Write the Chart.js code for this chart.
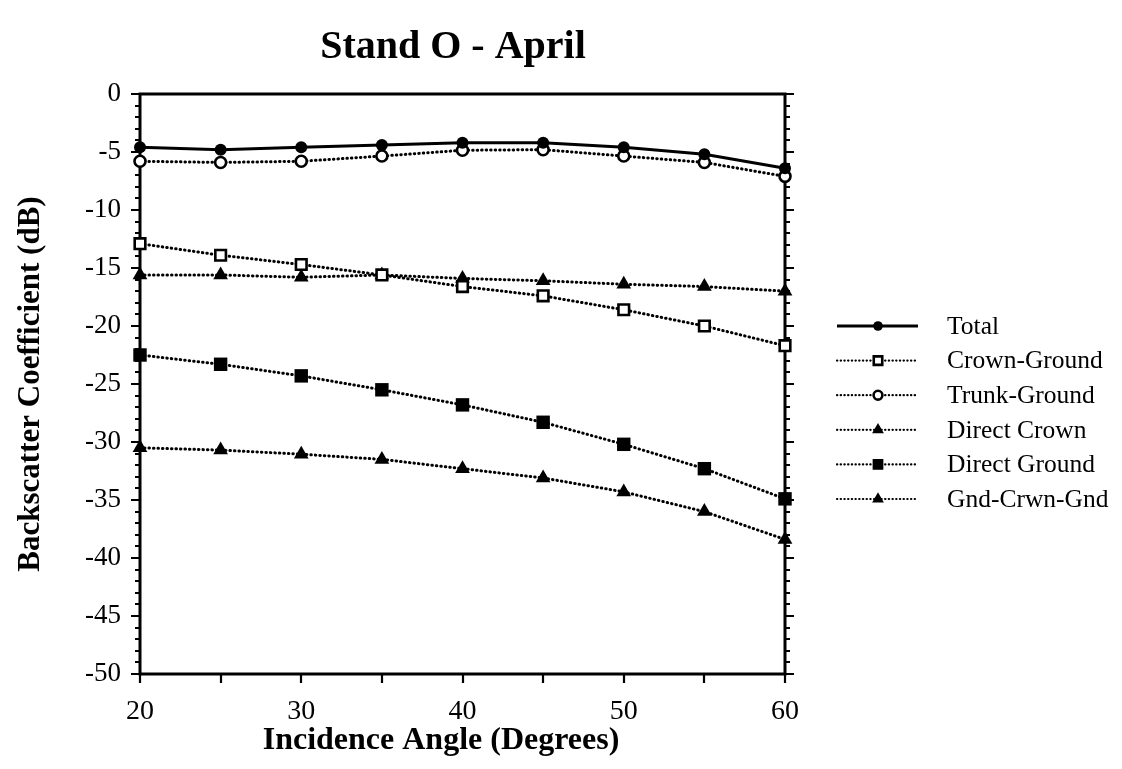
<!DOCTYPE html>
<html>
<head>
<meta charset="utf-8">
<script src="https://cdn.jsdelivr.net/npm/chart.js@4.4.1/dist/chart.umd.min.js"></script>
<style>
  html, body { margin: 0; padding: 0; background: #fff; }
  #wrap { width: 1122px; height: 769px; position: relative; }
</style>
</head>
<body>
<div id="wrap"><canvas id="chart"></canvas></div>
<script>
// --- data ---
const angles = [20, 25, 30, 35, 40, 45, 50, 55, 60];
const total        = [-4.6, -4.8, -4.6, -4.4, -4.2, -4.2, -4.6, -5.2, -6.4];
const crownGround  = [-12.9, -13.9, -14.7, -15.6, -16.6, -17.4, -18.6, -20.0, -21.7];
const trunkGround  = [-5.8, -5.9, -5.8, -5.35, -4.85, -4.8, -5.35, -5.9, -7.1];
const directCrown  = [-15.6, -15.6, -15.8, -15.6, -15.9, -16.1, -16.4, -16.6, -17.0];
const directGround = [-22.5, -23.3, -24.3, -25.5, -26.8, -28.3, -30.2, -32.3, -34.9];
const gndCrwnGnd   = [-30.5, -30.7, -31.05, -31.5, -32.3, -33.1, -34.3, -36.0, -38.4];

const xTickLabels = [20, 30, 40, 50, 60];
const yTickLabels = [0, -5, -10, -15, -20, -25, -30, -35, -40, -45, -50];

const SERIF = '"Liberation Serif", "Times New Roman", serif';
const DOTS = [0.5, 4];

const pts = vals => angles.map((a, i) => ({ x: a, y: vals[i] }));

const series = (label, vals, style) => Object.assign({
  label,
  data: pts(vals),
  borderColor: '#000',
  backgroundColor: '#000',
  pointBorderColor: '#000',
  borderWidth: 3,
  borderDash: DOTS,
  borderCapStyle: 'round',
  pointBorderWidth: 0,
  tension: 0,
  clip: false
}, style);

// Titles, ticks on both sides of the plot box, and the box itself
const axisFrame = {
  id: 'axisFrame',
  beforeDatasetsDraw(chart) {
    const { ctx, chartArea: a, scales: { x, y } } = chart;
    ctx.save();
    ctx.fillStyle = '#000';
    ctx.textAlign = 'center';
    ctx.textBaseline = 'middle';
    ctx.font = 'bold 40px ' + SERIF;
    ctx.fillText('Stand O - April', 453, 48);
    ctx.font = 'bold 32px ' + SERIF;
    ctx.fillText('Incidence Angle (Degrees)', 441, 741);

    ctx.strokeStyle = '#000';
    ctx.lineWidth = 2.2;
    ctx.beginPath();
    for (let v = -50; v <= 0; v++) {
      const py = Math.round(y.getPixelForValue(v));
      const len = v % 5 === 0 ? 9 : 5;
      ctx.moveTo(a.left - len, py); ctx.lineTo(a.left, py);
      ctx.moveTo(a.right, py); ctx.lineTo(a.right + len, py);
    }
    for (let v = 20; v <= 60; v += 5) {
      const px = Math.round(x.getPixelForValue(v));
      ctx.moveTo(px, a.bottom); ctx.lineTo(px, a.bottom + 9);
    }
    ctx.stroke();
    ctx.lineWidth = 3;
    ctx.strokeRect(a.left, a.top, a.right - a.left, a.bottom - a.top);
    ctx.restore();
  }
};

// Legend on the right: line sample with marker in the middle
const sideLegend = {
  id: 'sideLegend',
  afterDraw(chart) {
    const { ctx } = chart;
    const x0 = 837, x1 = 918, mx = 878, tx = 947;
    const top = 326, step = 34.6;
    ctx.save();
    chart.data.datasets.forEach((ds, i) => {
      const ly = top + i * step;
      const dotted = ds.borderDash && ds.borderDash.length;
      ctx.strokeStyle = '#000';
      ctx.lineWidth = dotted ? 2.2 : 3;
      ctx.lineCap = dotted ? 'round' : 'butt';
      ctx.setLineDash(dotted ? [0.3, 3.4] : []);
      ctx.beginPath();
      ctx.moveTo(x0, ly); ctx.lineTo(x1, ly);
      ctx.stroke();
      ctx.setLineDash([]);
      ctx.fillStyle = ds.pointBackgroundColor || '#000';
      ctx.strokeStyle = '#000';
      ctx.lineWidth = ds.pointBorderWidth;
      Chart.helpers.drawPoint(ctx, {
        pointStyle: ds.pointStyle,
        radius: ds.pointRadius * 0.8,
        rotation: 0,
        borderWidth: ds.pointBorderWidth
      }, mx, ly);
      ctx.fillStyle = '#000';
      ctx.font = '25.5px ' + SERIF;
      ctx.textBaseline = 'middle';
      ctx.textAlign = 'left';
      ctx.fillText(ds.label, tx, ly + 1);
    });
    ctx.restore();
  }
};

new Chart(document.getElementById('chart'), {
  type: 'line',
  data: {
    datasets: [
      series('Total', total, {
        borderWidth: 3, borderDash: [], borderCapStyle: 'butt',
        pointStyle: 'circle', pointRadius: 6, pointBackgroundColor: '#000'
      }),
      series('Crown-Ground', crownGround, {
        pointStyle: 'rect', pointRadius: 7.5, pointBackgroundColor: '#fff', pointBorderWidth: 2.6
      }),
      series('Trunk-Ground', trunkGround, {
        pointStyle: 'circle', pointRadius: 5.5, pointBackgroundColor: '#fff', pointBorderWidth: 2.6
      }),
      series('Direct Crown', directCrown, {
        pointStyle: 'triangle', pointRadius: 8.5, pointBackgroundColor: '#000'
      }),
      series('Direct Ground', directGround, {
        pointStyle: 'rect', pointRadius: 9.5, pointBackgroundColor: '#000'
      }),
      series('Gnd-Crwn-Gnd', gndCrwnGnd, {
        pointStyle: 'triangle', pointRadius: 8.5, pointBackgroundColor: '#000'
      })
    ]
  },
  options: {
    responsive: true,
    maintainAspectRatio: false,
    animation: false,
    layout: { padding: { left: 0, right: 337, top: 94, bottom: 0 } },
    plugins: {
      legend: { display: false },
      tooltip: { enabled: false },
      title: { display: false }
    },
    scales: {
      x: {
        type: 'linear',
        min: 20, max: 60,
        afterFit: s => { s.height = 95; },
        afterBuildTicks: s => { s.ticks = xTickLabels.map(v => ({ value: v })); },
        grid: { display: false },
        border: { display: false },
        ticks: {
          color: '#000',
          font: { family: SERIF, size: 28 },
          padding: 13,
          maxRotation: 0
        }
      },
      y: {
        min: -50, max: 0,
        afterFit: s => { s.width = 140; },
        afterBuildTicks: s => { s.ticks = yTickLabels.map(v => ({ value: v })); },
        grid: { display: false },
        border: { display: false },
        ticks: {
          color: '#000',
          font: { family: SERIF, size: 27 },
          padding: 11
        },
        title: {
          display: true,
          text: 'Backscatter Coefficient (dB)',
          color: '#000',
          font: { family: SERIF, size: 31, weight: 'bold' },
          padding: { top: 12 }
        }
      }
    }
  },
  plugins: [axisFrame, sideLegend]
});
</script>
</body>
</html>
